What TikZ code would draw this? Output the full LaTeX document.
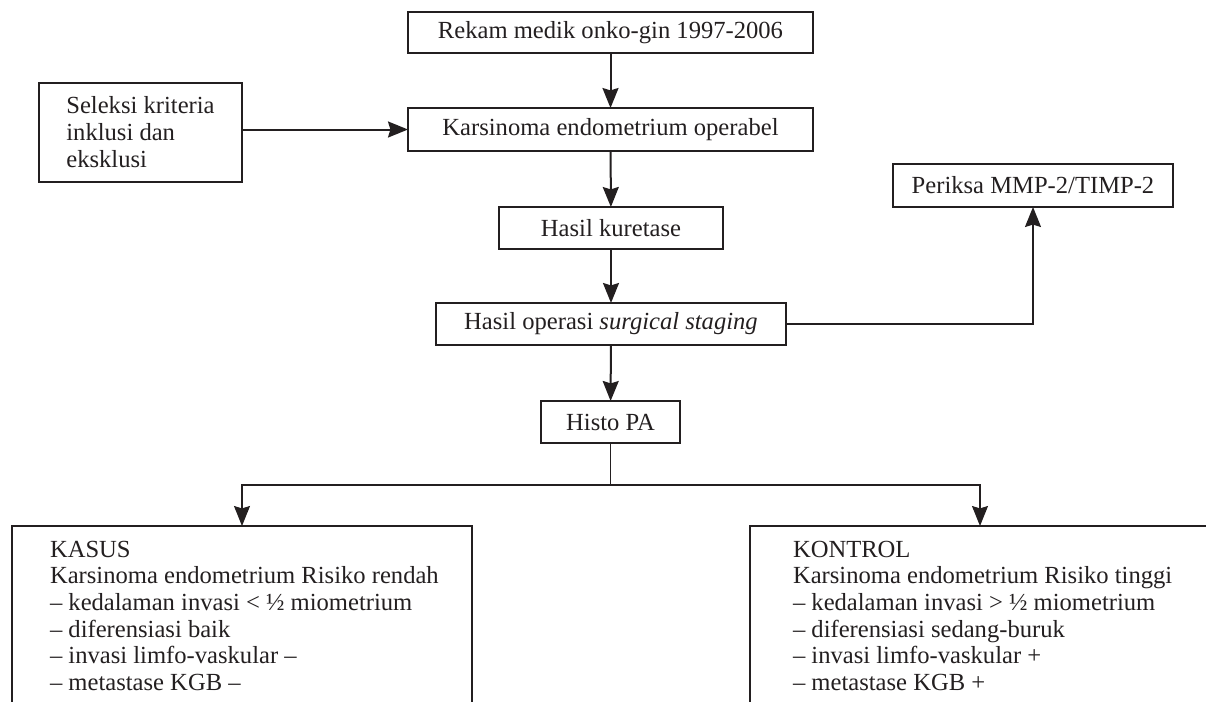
\documentclass[tikz,border=0pt]{standalone}
\usepackage{fontspec}
\setmainfont{Liberation Serif}
\usepackage{tikz}
\usetikzlibrary{arrows.meta,positioning,calc}
\definecolor{ink}{HTML}{231F20}
\tikzset{
    every picture/.style={line join=miter},
    flowbox/.style={draw=ink,line width=1pt,inner sep=0pt,outer sep=0pt,
      text=ink,font=\fontsize{12.3}{13.5}\selectfont,align=center},
    listtext/.style={inner sep=0pt,outer sep=0pt,anchor=north west,text=ink,
      font=\fontsize{12.3}{13.3}\selectfont,align=left},
    flowarrow/.style={-{Stealth[length=10pt,width=8pt,inset=1.2pt]},draw=ink,
      line width=1pt},
    forkline/.style={draw=ink,line width=0.6pt}
}

\begin{document}
\begin{tikzpicture}[x=0.5pt,y=-0.5pt]
  \useasboundingbox (0,0) rectangle (1206,702);
  % main chain
  \node[flowbox,minimum width=202.5pt,minimum height=20.5pt] (rekam) at (610.5,32.5) {Rekam medik onko-gin 1997-2006};
  \node[flowbox,minimum width=202.5pt,minimum height=21.5pt] (operabel) at (610.5,129.5) {Karsinoma endometrium operabel};
  \node[flowbox,minimum width=101.5pt,minimum height=49.5pt,align=left] (seleksi) at (140.5,132.5) {Seleksi kriteria\\inklusi dan\\eksklusi};
  \node[flowbox,minimum width=112pt,minimum height=21pt] (kuretase) at (611,228) {Hasil kuretase};
  \node[flowbox,minimum width=175pt,minimum height=21pt] (staging) at (611,324) {Hasil operasi \textit{surgical staging}};
  \node[flowbox,minimum width=140pt,minimum height=21.5pt] (periksa) at (1033,185.5) {Periksa MMP-2/TIMP-2};
  \node[flowbox,minimum width=69.5pt,minimum height=21pt] (histo) at (610.5,422) {Histo PA};
  \coordinate (fork) at (610.5,485);
  % result groups
  \node[flowbox,anchor=north west,minimum width=230pt,minimum height=150pt] (kasus) at (12,526) {};
  \node[flowbox,anchor=north west,minimum width=230pt,minimum height=150pt] (kontrol) at (750,526) {};
  \node[listtext] (kasustext) at ([xshift=19pt,yshift=-7.5pt]kasus.north west)
    {KASUS\\Karsinoma endometrium Risiko rendah\\-- kedalaman invasi < ½ miometrium\\-- diferensiasi baik\\-- invasi limfo-vaskular --\\-- metastase KGB --};
  \node[listtext] (kontroltext) at ([xshift=21.5pt,yshift=-7.5pt]kontrol.north west)
    {KONTROL\\Karsinoma endometrium Risiko tinggi\\-- kedalaman invasi > ½ miometrium\\-- diferensiasi sedang-buruk\\-- invasi limfo-vaskular +\\-- metastase KGB +};
  % connectors
  \draw[flowarrow] (rekam)--(operabel);
  \draw[flowarrow] (seleksi.east |- operabel.west)--(operabel.west);
  \draw[flowarrow] (operabel)--(kuretase);
  \draw[flowarrow] (kuretase)--(staging);
  \draw[flowarrow] (staging)--(histo);
  \draw[flowarrow,line width=0.8pt] (staging.east) -| (periksa.south);
  \draw[forkline] (histo.south)--(fork);
  \draw[forkline,-{Stealth[length=10pt,width=8pt,inset=1.2pt]}] (fork) -| (kasus.north);
  \draw[forkline,-{Stealth[length=10pt,width=8pt,inset=1.2pt]}] (fork) -| (kontrol.north);
\end{tikzpicture}
\end{document}
